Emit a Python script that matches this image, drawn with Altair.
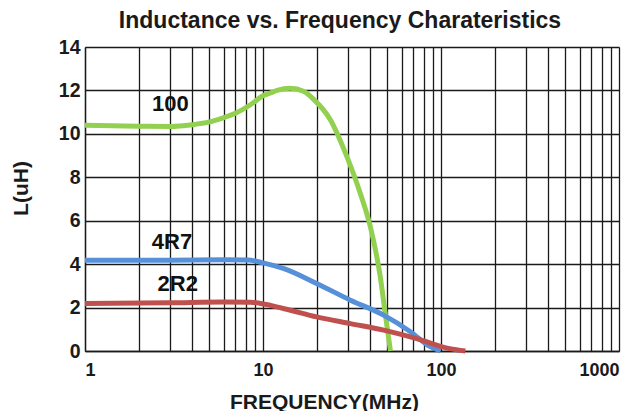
import altair as alt
import pandas as pd

# Data
f_100 = [1, 2, 3, 4, 5, 6, 7, 8.5, 10, 11, 12, 14.2, 17, 19.2, 23.9, 29.6, 35.2, 40.1, 45.6, 48.6, 52]
l_100 = [10.4, 10.35, 10.34, 10.42, 10.55, 10.75, 10.95, 11.34, 11.75, 11.88, 12.0, 12.1, 11.95, 11.6, 10.65, 8.95, 7.26, 5.72, 3.41, 1.73, 0]

f_4r7 = [1, 3, 6, 8.2, 10, 13, 20, 31, 47.6, 67, 87, 99.5]
l_4r7 = [4.18, 4.18, 4.2, 4.19, 4.06, 3.8, 3.11, 2.34, 1.65, 0.9, 0.2, 0]

f_2r2 = [1, 3, 6, 8.5, 13, 20, 31, 47.6, 73, 112, 137]
l_2r2 = [2.19, 2.22, 2.26, 2.24, 1.96, 1.57, 1.26, 0.96, 0.57, 0.11, 0]

series_names = ["100", "4R7", "2R2"]
series_colors = ["#92D050", "#5590D9", "#C0504D"]

label_text = ["100", "4R7", "2R2"]
label_f = [3.02, 3.08, 3.32]
label_l = [11.38, 5.03, 3.08]

x_ticks = [1, 2, 3, 4, 5, 6, 7, 8, 9, 10, 20, 30, 40, 50, 60, 70, 80, 90,
           100, 200, 300, 400, 500, 600, 700, 800, 900, 1000]
y_ticks = [0, 2, 4, 6, 8, 10, 12, 14]

rows = []
for name, fs, ls in [("100", f_100, l_100), ("4R7", f_4r7, l_4r7), ("2R2", f_2r2, l_2r2)]:
    for i, (fv, lv) in enumerate(zip(fs, ls)):
        rows.append({"series": name, "f": fv, "L": lv, "order": i})
df = pd.DataFrame(rows)
df_lab = pd.DataFrame({"text": label_text, "f": label_f, "L": label_l})

FONT = "Liberation Sans"
INK = "#1a1a1a"

x_enc = alt.X("f:Q", scale=alt.Scale(type="log", domain=[1, 1000], nice=False),
              axis=alt.Axis(values=x_ticks, title="FREQUENCY(MHz)",
                            labelExpr="(datum.value == 1 || datum.value == 10 || datum.value == 100 || datum.value == 1000) ? datum.label : ''",
                            labelOverlap=False, tickSize=0, labelPadding=10,
                            labelFont=FONT, labelFontSize=18, labelFontWeight="bold", labelColor=INK,
                            titleFont=FONT, titleFontSize=21, titleFontWeight="bold", titleColor=INK,
                            titleX=239, titleY=51, titleBaseline="middle", titleAlign="center",
                            format="d",
                            grid=True, gridColor=INK, gridWidth=1.3, gridOpacity=1,
                            domainColor=INK, domainWidth=1.3))
y_enc = alt.Y("L:Q", scale=alt.Scale(domain=[0, 14], nice=False),
              axis=alt.Axis(values=y_ticks, title="L(uH)", tickSize=0, labelPadding=5,
                            labelFont=FONT, labelFontSize=19.5, labelFontWeight="bold", labelColor=INK,
                            titleFont=FONT, titleFontSize=21, titleFontWeight="bold", titleColor=INK,
                            titleX=-64, titleY=141, titleBaseline="middle", titleAlign="center",
                            titleAngle=270,
                            grid=True, gridColor=INK, gridWidth=1.3, gridOpacity=1,
                            domainColor=INK, domainWidth=1.3))

lines = alt.Chart(df).mark_line(strokeWidth=5, interpolate="monotone").encode(
    x=x_enc, y=y_enc,
    color=alt.Color("series:N", scale=alt.Scale(domain=series_names, range=series_colors), legend=None),
    order="order:Q",
)

labels = alt.Chart(df_lab).mark_text(font=FONT, fontSize=22, fontWeight="bold", color="#111111").encode(
    x=alt.X("f:Q", scale=alt.Scale(type="log", domain=[1, 1000], nice=False)),
    y=alt.Y("L:Q", scale=alt.Scale(domain=[0, 14], nice=False)),
    text="text:N",
)

chart = alt.layer(lines, labels).properties(
    width=534, height=304,
    title=alt.Title("Inductance  vs. Frequency Charateristics", font=FONT, fontSize=23,
                    fontWeight="bold", color=INK, anchor="middle", offset=4, dx=-12),
    autosize=alt.AutoSizeParams(type="none"),
    padding={"left": 77, "top": 39, "right": 10, "bottom": 60},
).configure_view(stroke=INK, strokeWidth=1.3).configure(background="white")

chart.save("out.html", embed_options={"renderer": "svg", "actions": False})
